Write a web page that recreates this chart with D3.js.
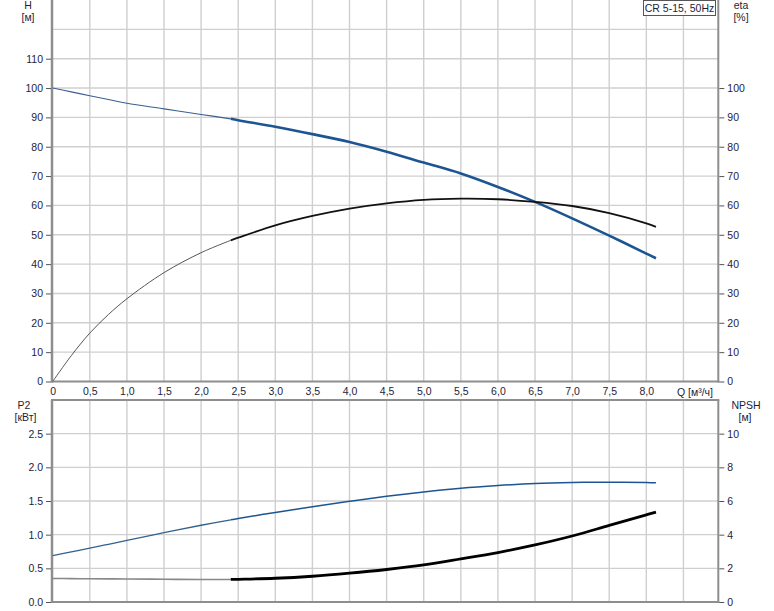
<!DOCTYPE html>
<html><head><meta charset="utf-8">
<script src="https://cdn.jsdelivr.net/npm/d3@7"></script>
<style>
html,body{margin:0;padding:0;background:#fff;}
svg{display:block;font-family:"Liberation Sans",Arial,sans-serif;}
</style></head>
<body>
<svg id="c" width="774" height="611"></svg>
<script>
// ---- data ----
const flowQ   = [0, 0.25, 0.5, 0.75, 1.0, 1.5, 2.0, 2.4, 2.5, 3.0, 3.5, 4.0, 4.5, 5.0, 5.5, 6.0, 6.5, 7.0, 7.5, 8.0, 8.13];
const headH   = [100, 98.7, 97.4, 96.1, 94.8, 92.9, 91.0, 89.5, 89.0, 86.8, 84.3, 81.6, 78.3, 74.6, 70.9, 66.3, 61.2, 55.6, 49.7, 43.6, 42.0];
const effEta  = [0, 8.8, 16.5, 22.8, 28.2, 37.1, 43.9, 48.1, 49.0, 53.2, 56.4, 58.9, 60.7, 61.9, 62.3, 62.1, 61.2, 59.8, 57.4, 53.9, 52.7];
const powerP2 = [0.69, 0.745, 0.80, 0.857, 0.915, 1.03, 1.14, 1.22, 1.24, 1.33, 1.415, 1.495, 1.57, 1.635, 1.69, 1.73, 1.76, 1.775, 1.78, 1.775, 1.77];
const npshR   = [1.40, 1.39, 1.38, 1.375, 1.37, 1.35, 1.34, 1.34, 1.35, 1.41, 1.53, 1.71, 1.93, 2.20, 2.56, 2.94, 3.39, 3.92, 4.55, 5.18, 5.34];
const splitQ  = 2.4;

const qTicks    = [0,0.5,1,1.5,2,2.5,3,3.5,4,4.5,5,5.5,6,6.5,7,7.5,8];
const qGrid     = [0.5,1,1.5,2,2.5,3,3.5,4,4.5,5,5.5,6,6.5,7,7.5,8,8.5];
const hTicks    = [0,10,20,30,40,50,60,70,80,90,100,110];
const hGrid     = [10,20,30,40,50,60,70,80,90,100,110,120];
const etaTicks  = [0,10,20,30,40,50,60,70,80,90,100];
const p2Ticks   = [0,0.5,1.0,1.5,2.0,2.5];
const npshTicks = [0,2,4,6,8,10];
const legendText = "CR 5-15, 50Hz";
const qTitle = "Q [м³/ч]";

// ---- layout ----
const svg = d3.select("#c");
const FS = 10.5;
const TXT = "#1e1e3c";
const GRID = "#cfcfcf";
const AX = "#8e8e8e";
const BLUE = "#1d5592";

const x = d3.scaleLinear().domain([0, 8.97]).range([52.7, 718.3]);
const yH = d3.scaleLinear().domain([0, 130]).range([381.5, 0]);
const yEta = d3.scaleLinear().domain([0, 130]).range([381.5, 0]);
const yP = d3.scaleLinear().domain([0, 3]).range([602, 400]);
const yN = d3.scaleLinear().domain([0, 12]).range([602, 400]);

const L = x.range()[0], R = x.range()[1];

// gridlines top panel
const g = svg.append("g");
g.selectAll(".vt").data(qGrid).join("line")
  .attr("x1", d => x(d)).attr("x2", d => x(d)).attr("y1", 0).attr("y2", yH(0))
  .attr("stroke", GRID).attr("stroke-width", 1.4);
g.selectAll(".ht").data(hGrid).join("line")
  .attr("x1", L).attr("x2", R).attr("y1", d => yH(d)).attr("y2", d => yH(d))
  .attr("stroke", GRID).attr("stroke-width", 1.4);
// gridlines bottom panel
g.selectAll(".vb").data(qGrid).join("line")
  .attr("x1", d => x(d)).attr("x2", d => x(d)).attr("y1", yP(3)).attr("y2", yP(0))
  .attr("stroke", GRID).attr("stroke-width", 1.4);
g.selectAll(".hb").data(p2Ticks.filter(d => d > 0)).join("line")
  .attr("x1", L).attr("x2", R).attr("y1", d => yP(d)).attr("y2", d => yP(d))
  .attr("stroke", GRID).attr("stroke-width", 1.4);

// frames
function frameLine(x1, y1, x2, y2, w) {
  svg.append("line").attr("x1", x1).attr("y1", y1).attr("x2", x2).attr("y2", y2)
    .attr("stroke", AX).attr("stroke-width", w);
}
frameLine(52, 0, 52, yH(0) + 1, 2.5);
frameLine(R, 0, R, yH(0) + 1, 2);
frameLine(51, yH(0), R + 1, yH(0), 2);
frameLine(52, yP(3), 52, yP(0) + 1, 2.5);
frameLine(R, yP(3), R, yP(0) + 1, 2);
frameLine(51, yP(0), R + 1, yP(0), 2);
frameLine(51, yP(3), R + 1, yP(3), 2);

// axes helper
function styleAxis(sel) {
  sel.select(".domain").remove();
  sel.selectAll(".tick line").attr("stroke", "#555").attr("stroke-width", 1);
  sel.selectAll(".tick text").attr("fill", TXT).style("font-size", FS + "px")
    .style("font-family", "'Liberation Sans', Arial, sans-serif");
}
svg.append("g").attr("transform", "translate(51,0)")
  .call(d3.axisLeft(yH).tickValues(hTicks).tickSize(5).tickPadding(3).tickFormat(d3.format("d")))
  .call(styleAxis);
svg.append("g").attr("transform", `translate(${R + 1},0)`)
  .call(d3.axisRight(yEta).tickValues(etaTicks).tickSize(5).tickPadding(3).tickFormat(d3.format("d")))
  .call(styleAxis);
svg.append("g").attr("transform", `translate(0,${yH(0)})`)
  .call(d3.axisBottom(x).tickValues(qTicks).tickSize(0).tickPadding(6.5)
    .tickFormat(d => d === 0 ? "0" : d.toFixed(1).replace(".", ",")))
  .call(styleAxis);
svg.append("g").attr("transform", "translate(51,0)")
  .call(d3.axisLeft(yP).tickValues(p2Ticks).tickSize(5).tickPadding(3).tickFormat(d => d.toFixed(1)))
  .call(styleAxis);
svg.append("g").attr("transform", `translate(${R + 1},0)`)
  .call(d3.axisRight(yN).tickValues(npshTicks).tickSize(5).tickPadding(3).tickFormat(d3.format("d")))
  .call(styleAxis);

// titles
function label(t, xx, yy, anchor) {
  svg.append("text").attr("x", xx).attr("y", yy).attr("text-anchor", anchor || "middle")
    .attr("fill", TXT).style("font-size", FS + "px").text(t);
}
label("H", 28, 9);
label("[м]", 28, 21);
label("eta", 741, 9);
label("[%]", 741, 21);
label("P2", 24, 409);
label("[кВт]", 25.5, 421);
label("NPSH", 746, 409);
label("[м]", 745, 421);
label(qTitle, 713, 395.5, "end");

// legend box
svg.append("rect").attr("x", 643.5).attr("y", 0.5).attr("width", 72).attr("height", 15)
  .attr("fill", "#fff").attr("stroke", "#555").attr("stroke-width", 1);
label(legendText, 679.5, 12);

// curves
const pts = (ys) => flowQ.map((q, i) => [q, ys[i]]);
function curve(ys, yScale, part) {
  const data = pts(ys).filter(d => part === "thin" ? d[0] <= splitQ : d[0] >= splitQ);
  return d3.line().x(d => x(d[0])).y(d => yScale(d[1])).curve(d3.curveCatmullRom.alpha(0.5))(data);
}
function draw(ys, yScale, part, color, w) {
  svg.append("path").attr("d", curve(ys, yScale, part)).attr("fill", "none")
    .attr("stroke", color).attr("stroke-width", w).attr("stroke-linecap", "butt");
}
draw(headH, yH, "thin", "#3a5f92", 1.1);
draw(headH, yH, "thick", BLUE, 2.6);
draw(effEta, yEta, "thin", "#555", 1.0);
draw(effEta, yEta, "thick", "#111", 1.8);
draw(powerP2, yP, "thin", "#33608f", 1.3);
draw(powerP2, yP, "thick", BLUE, 1.5);
draw(npshR, yN, "thin", "#888", 1.6);
draw(npshR, yN, "thick", "#000", 2.8);
</script>
</body></html>
